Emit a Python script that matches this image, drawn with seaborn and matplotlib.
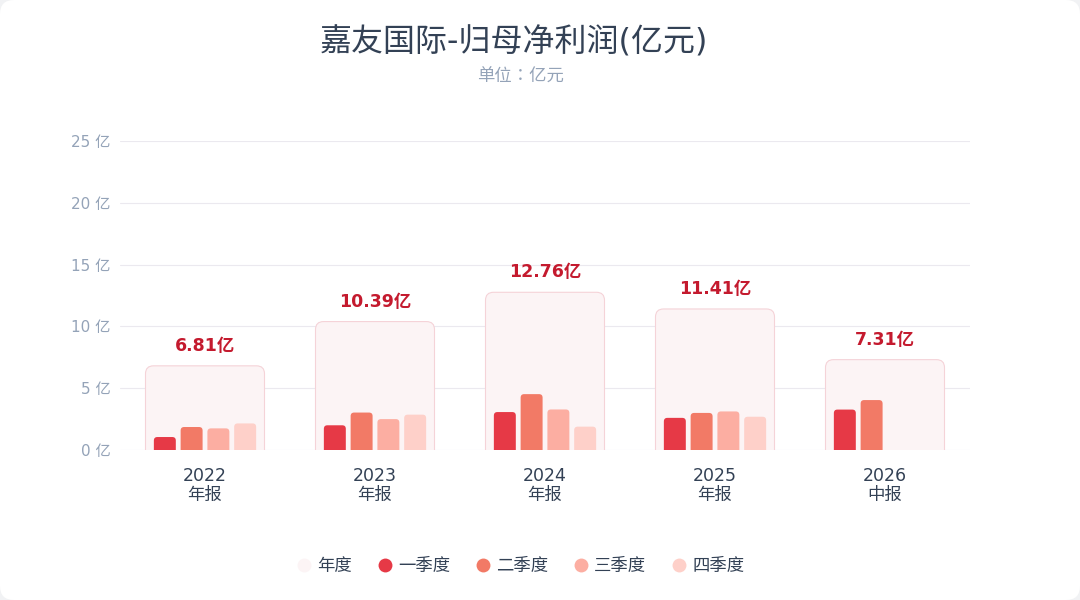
import matplotlib
matplotlib.use('Agg')
import matplotlib.pyplot as plt
import seaborn as sns
import pandas as pd
import numpy as np
from matplotlib.patches import FancyBboxPatch
from matplotlib.lines import Line2D
from matplotlib.transforms import IdentityTransform

# ---------------- data ----------------
periods = ['2022\n年报', '2023\n年报', '2024\n年报', '2025\n年报', '2026\n中报']
annual = [6.81, 10.39, 12.76, 11.41, 7.31]
quarters = ['一季度', '二季度', '三季度', '四季度']
q1 = [1.05, 2.00, 3.07, 2.60, 3.27]
q2 = [1.86, 3.03, 4.52, 3.00, 4.04]
q3 = [1.75, 2.50, 3.28, 3.12, np.nan]
q4 = [2.15, 2.86, 1.89, 2.69, np.nan]
yticks = [0, 5, 10, 15, 20, 25]
title = '嘉友国际-归母净利润(亿元)'
subtitle = '单位：亿元'
legend_labels = ['年度', '一季度', '二季度', '三季度', '四季度']

# ---------------- style ----------------
annual_color = '#fcf4f5'
annual_edge = '#f5d3d8'
q_colors = ['#e63946', '#f27a66', '#fcaea2', '#fed0c9']
label_color = '#c41a2e'
dark = '#334155'
muted = '#94a3b8'

sns.set_theme(style='white')
plt.rcParams['font.family'] = ['DejaVu Sans', 'Noto Sans CJK SC']

df_a = pd.DataFrame({'period': periods, 'value': annual})
rows = []
for qname, vals in zip(quarters, [q1, q2, q3, q4]):
    for p, v in zip(periods, vals):
        if not np.isnan(v):
            rows.append({'period': p, 'quarter': qname, 'value': v})
df_q = pd.DataFrame(rows)

W, H = 1080, 600
fig = plt.figure(figsize=(W / 100, H / 100), dpi=100)
fig.patch.set_facecolor('#f1f2f4')
card = FancyBboxPatch((0, 0), W, H, boxstyle='round,pad=0,rounding_size=14',
                      transform=IdentityTransform(), facecolor='white',
                      edgecolor='none', zorder=-10)
fig.add_artist(card)

ax_l, ax_r, ax_t, ax_b = 120, 970, 141, 450
ax = fig.add_axes([ax_l / W, 1 - ax_b / H, (ax_r - ax_l) / W, (ax_b - ax_t) / H])
ax.set_facecolor('none')

sns.barplot(data=df_a, x='period', y='value', order=periods, width=0.7,
            color=annual_color, saturation=1, errorbar=None, ax=ax)
n_annual = len(ax.patches)
sns.barplot(data=df_q, x='period', y='value', hue='quarter', order=periods,
            hue_order=quarters, palette=q_colors, width=0.63, gap=0.18,
            saturation=1, errorbar=None, legend=False, ax=ax)

ax.set_xlim(-0.5, len(periods) - 0.5)
ax.set_ylim(0, 25)

# rounded bars
px_x = (ax_r - ax_l) / len(periods)   # pixels per x unit
px_y = (ax_b - ax_t) / 25.0           # pixels per y unit
aspect = px_x / px_y
patches = list(ax.patches)
for i, p in enumerate(patches):
    x, y = p.get_x(), p.get_y()
    w, h = p.get_width(), p.get_height()
    if not np.isfinite(h):
        p.remove()
        continue
    is_annual = i < n_annual
    r_px = 8 if is_annual else 3.5
    r = r_px / px_x
    ry = r_px / px_y
    fc = p.get_facecolor()
    p.remove()
    nb = FancyBboxPatch((x, -ry), w, h + ry,
                        boxstyle=f'round,pad=0,rounding_size={r}',
                        mutation_aspect=aspect, facecolor=fc,
                        edgecolor=annual_edge if is_annual else 'none',
                        linewidth=0.8 if is_annual else 0,
                        zorder=1 if is_annual else 2)
    ax.add_patch(nb)

# value labels
for i, v in enumerate(annual):
    ax.annotate(f'{v:.2f}亿', xy=(i, v), xytext=(0, 20), textcoords='offset pixels',
                ha='center', va='center', fontsize=12.5, fontweight='bold',
                color=label_color, zorder=5)

# axes styling
ax.set_yticks(yticks)
ax.set_yticklabels([f'{t} 亿' for t in yticks])
ax.yaxis.grid(True, color='#ebe9ef', linewidth=0.8, zorder=0)
ax.xaxis.grid(False)
ax.set_axisbelow(True)
ax.tick_params(axis='y', length=0, pad=7, labelsize=11, labelcolor=muted)
ax.tick_params(axis='x', length=0, pad=12.5, labelsize=12.5, labelcolor=dark)
for lab in ax.get_xticklabels():
    lab.set_linespacing(1.05)
ax.set_xlabel('')
ax.set_ylabel('')
sns.despine(ax=ax, left=True, bottom=True)

# titles
fig.text(514 / W, 1 - 43 / H, title, ha='center', va='center', fontsize=23, color=dark)
fig.text(520 / W, 1 - 77 / H, subtitle, ha='center', va='center', fontsize=12.5,
         color=muted, family=['Noto Sans CJK TC', 'Noto Sans CJK SC', 'DejaVu Sans'])

# legend
handles = [Line2D([], [], marker='o', linestyle='none', markersize=10,
                  markerfacecolor=c, markeredgecolor='none')
           for c in [annual_color] + q_colors]
fig.legend(handles, legend_labels, loc='center', bbox_to_anchor=(520 / W, 1 - 566 / H),
           ncol=5, frameon=False, fontsize=12.5, handlelength=1.0,
           handletextpad=0.25, columnspacing=1.4, labelcolor=dark)

fig.savefig('out.png', dpi=100, facecolor=fig.get_facecolor())
